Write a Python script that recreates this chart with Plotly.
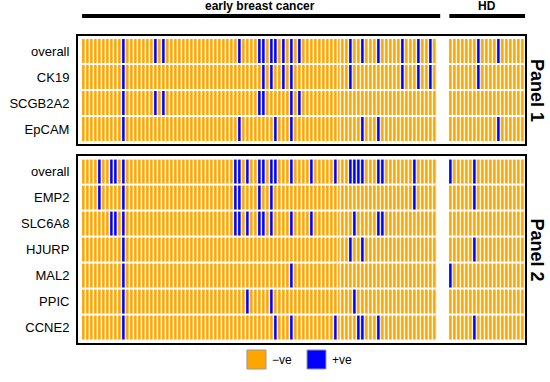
import plotly.graph_objects as go

# ---------------- data ----------------
N_EBC = 89          # early breast cancer samples
N_HD = 19           # healthy donors
GAP = 3             # empty columns between the two groups

panel1_rows = ["overall", "CK19", "SCGB2A2", "EpCAM"]
panel2_rows = ["overall", "EMP2", "SLC6A8", "HJURP", "MAL2", "PPIC", "CCNE2"]

# positive (+ve) sample indices, early breast cancer group, panel 1
p1_overall_ebc = [10, 18, 20, 39, 44, 45, 47, 48, 50, 52, 54, 67, 70, 74, 80, 84, 87]
p1_ck19_ebc = [10, 45, 47, 50, 52, 67, 80, 84, 87]
p1_scgb2a2_ebc = [10, 18, 20, 44, 45, 52, 54]
p1_epcam_ebc = [10, 39, 48, 52, 70, 74]
# positive indices, healthy donor group, panel 1
p1_overall_hd = [7, 12]
p1_ck19_hd = [7]
p1_scgb2a2_hd = []
p1_epcam_hd = [12]

# panel 2, early breast cancer
p2_overall_ebc = [4, 7, 8, 10, 38, 39, 41, 44, 45, 47, 48, 52, 57, 63, 67, 68, 69, 70, 74, 75, 83]
p2_emp2_ebc = [4, 10, 38, 39, 44, 47, 83]
p2_slc6a8_ebc = [7, 8, 10, 38, 39, 41, 44, 45, 47, 52, 57, 68, 74, 75]
p2_hjurp_ebc = [10, 67, 70]
p2_mal2_ebc = [10, 52]
p2_ppic_ebc = [10, 41, 47, 68]
p2_ccne2_ebc = [10, 48, 52, 63, 69, 70, 74]
# panel 2, healthy donors
p2_overall_hd = [0, 6]
p2_emp2_hd = [6]
p2_slc6a8_hd = []
p2_hjurp_hd = [6]
p2_mal2_hd = [0]
p2_ppic_hd = []
p2_ccne2_hd = [6]

group_labels = ["early breast cancer", "HD"]
legend_labels = ["\u2212ve", "+ve"]
ORANGE = "#FFA500"
BLUE = "#0000FF"

# ---------------- build matrices ----------------
total_cols = N_EBC + GAP + N_HD
cols = list(range(total_cols))
hd_start = N_EBC + GAP


def row_values(ebc_pos, hd_pos):
    vals = [1 if i in ebc_pos else 0 for i in range(N_EBC)]
    vals += [None] * GAP
    vals += [1 if j in hd_pos else 0 for j in range(N_HD)]
    return vals


z1 = [
    row_values(p1_overall_ebc, p1_overall_hd),
    row_values(p1_ck19_ebc, p1_ck19_hd),
    row_values(p1_scgb2a2_ebc, p1_scgb2a2_hd),
    row_values(p1_epcam_ebc, p1_epcam_hd),
]
z2 = [
    row_values(p2_overall_ebc, p2_overall_hd),
    row_values(p2_emp2_ebc, p2_emp2_hd),
    row_values(p2_slc6a8_ebc, p2_slc6a8_hd),
    row_values(p2_hjurp_ebc, p2_hjurp_hd),
    row_values(p2_mal2_ebc, p2_mal2_hd),
    row_values(p2_ppic_ebc, p2_ppic_hd),
    row_values(p2_ccne2_ebc, p2_ccne2_hd),
]

cscale = [[0, ORANGE], [0.5, ORANGE], [0.5, BLUE], [1, BLUE]]

fig = go.Figure()
fig.add_trace(go.Heatmap(z=z1, x=cols, y=list(range(len(panel1_rows))),
                         colorscale=cscale, zmin=0, zmax=1, showscale=False,
                         xgap=1.4, ygap=2, hoverinfo="skip",
                         xaxis="x", yaxis="y"))
fig.add_trace(go.Heatmap(z=z2, x=cols, y=list(range(len(panel2_rows))),
                         colorscale=cscale, zmin=0, zmax=1, showscale=False,
                         xgap=1.4, ygap=2, hoverinfo="skip",
                         xaxis="x2", yaxis="y2"))

FONT = "Liberation Sans, Arial, Helvetica, sans-serif"
xr = [-1.52, total_cols - 0.55]
axis_common = dict(showgrid=False, zeroline=False, showline=True, mirror=True,
                   linecolor="black", linewidth=2, ticks="")

fig.update_layout(
    width=550, height=382,
    margin=dict(l=78, r=25, t=36, b=39, autoexpand=False),
    paper_bgcolor="white", plot_bgcolor="white",
    font=dict(family=FONT, color="black"),
    xaxis=dict(domain=[0, 1], anchor="y", range=xr, showticklabels=False, **axis_common),
    xaxis2=dict(domain=[0, 1], anchor="y2", range=xr, showticklabels=False, matches="x", **axis_common),
    yaxis=dict(domain=[0.648, 1], anchor="x", range=[len(panel1_rows) - 0.423, -0.577],
               tickvals=list(range(len(panel1_rows))), ticktext=panel1_rows,
               tickfont=dict(size=13, family=FONT, color="black"), ticklabelstandoff=4,
               **axis_common),
    yaxis2=dict(domain=[0, 0.609], anchor="x2", range=[len(panel2_rows) - 0.404, -0.596],
                tickvals=list(range(len(panel2_rows))), ticktext=panel2_rows,
                tickfont=dict(size=13, family=FONT, color="black"), ticklabelstandoff=4,
                **axis_common),
)

# group header bars and labels
shapes = [
    dict(type="line", xref="x", yref="paper", x0=-0.5, x1=N_EBC - 0.5 + 0.7,
         y0=1.065, y1=1.065, line=dict(color="black", width=4)),
    dict(type="line", xref="x", yref="paper", x0=hd_start - 0.5, x1=total_cols - 0.5,
         y0=1.065, y1=1.065, line=dict(color="black", width=4)),
]
annotations = [
    dict(text="<b>%s</b>" % group_labels[0], xref="x", yref="paper", x=(N_EBC - 1) / 2,
         y=1.098, showarrow=False, font=dict(size=12, family=FONT), yanchor="middle"),
    dict(text="<b>%s</b>" % group_labels[1], xref="x", yref="paper", x=hd_start + (N_HD - 1) / 2,
         y=1.098, showarrow=False, font=dict(size=12, family=FONT), yanchor="middle"),
    dict(text="<b>Panel 1</b>", xref="paper", yref="paper", x=1.027, y=0.824,
         xanchor="center", yanchor="middle",
         textangle=90, showarrow=False, font=dict(size=18, family=FONT)),
    dict(text="<b>Panel 2</b>", xref="paper", yref="paper", x=1.027, y=0.3045,
         xanchor="center", yanchor="middle",
         textangle=90, showarrow=False, font=dict(size=18, family=FONT)),
]

# legend drawn as swatches
sw_y0, sw_y1 = -0.0847, -0.0228
legend_x = [(0.378, 0.4206), (0.5123, 0.5548)]
for (x0, x1), col, lab in zip(legend_x, [ORANGE, BLUE], legend_labels):
    shapes.append(dict(type="rect", xref="paper", yref="paper", x0=x0, x1=x1, y0=sw_y0, y1=sw_y1,
                       fillcolor=col, line=dict(color="#999999", width=1)))
    annotations.append(dict(text=lab, xref="paper", yref="paper", x=x1 + 0.009, y=(sw_y0 + sw_y1) / 2,
                            xanchor="left", yanchor="middle", showarrow=False,
                            font=dict(size=12, family=FONT)))

fig.update_layout(shapes=shapes, annotations=annotations)
# remove the browser's default 8px body margin so the figure sits at the page origin
fig.write_html("out.html", config={"displayModeBar": False},
               post_script="document.body.style.margin='0px';")
